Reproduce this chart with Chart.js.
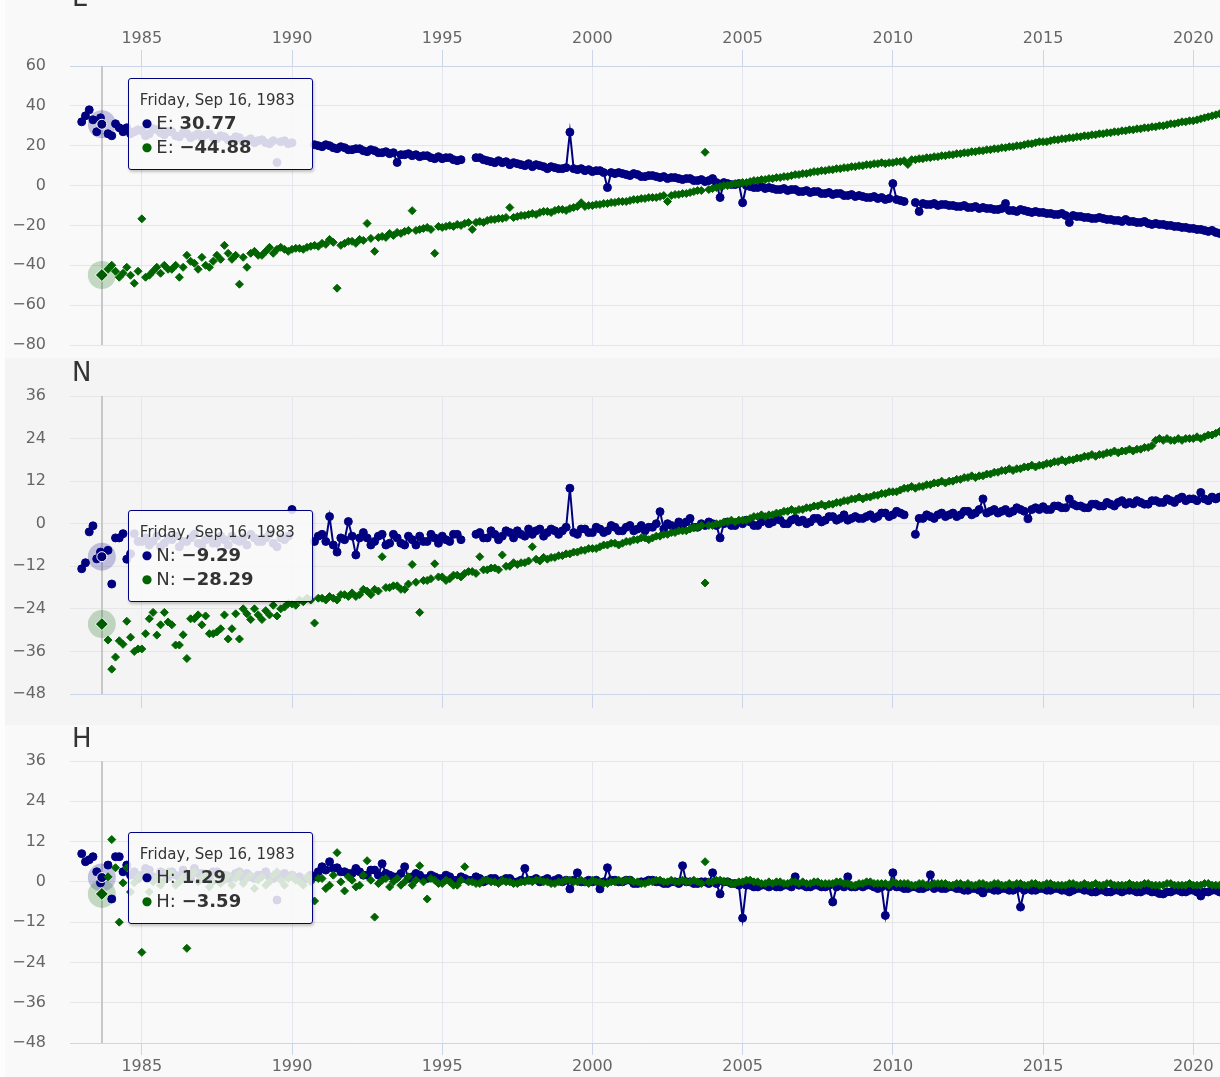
<!DOCTYPE html>
<html>
<head>
<meta charset="utf-8">
<script src="https://cdn.jsdelivr.net/npm/chart.js@4.4.1/dist/chart.umd.min.js"></script>
<style>
  html, body { margin: 0; padding: 0; }
  body { width: 1220px; height: 1077px; overflow: hidden; position: relative; background: #fdfdfd;
         font-family: 'DejaVu Sans', Verdana, sans-serif; }
  .panel { position: absolute; left: 5px; width: 1215px; }
  .panel canvas { position: absolute; left: 0; top: 0; }
  .title { position: absolute; left: 67px; font-size: 26px; line-height: 26px; color: #333; }
  .topline { position: absolute; left: 5px; top: 6px; width: 1215px; height: 1px; background: #e1e6ef; }
  .tip { position: absolute; width: 185px; height: 92px; box-sizing: border-box; padding: 11px 0 0 11px;
         background: rgba(249, 249, 249, 0.86); border: 1.5px solid #000080; border-radius: 3px;
         box-shadow: 1px 2px 3px rgba(0, 0, 0, 0.22); color: #333; white-space: nowrap; }
  .tip .head { font-size: 15px; line-height: 20px; margin-bottom: 1px; }
  .tip .row { font-size: 18px; line-height: 24px; }
  .tip .dot { font-size: 12px; margin: 0 4px 0 2px; vertical-align: 2px; }
  .tip b { font-weight: bold; }
</style>
</head>
<body>
<div class="topline"></div>
<div class="panel" style="top:0;height:358px;background:#f9f9f9">
  <canvas id="chart-e" width="1215" height="358"></canvas>
  <div class="title" style="top:-16px">E</div>
</div>
<div class="panel" style="top:358px;height:367px;background:#f4f4f4">
  <canvas id="chart-n" width="1215" height="367"></canvas>
  <div class="title" style="top:1px">N</div>
</div>
<div class="panel" style="top:725px;height:352px;background:#f9f9f9">
  <canvas id="chart-h" width="1215" height="352"></canvas>
  <div class="title" style="top:0px">H</div>
</div>
<div class="tip" id="tip-e"></div>
<div class="tip" id="tip-n"></div>
<div class="tip" id="tip-h"></div>

<script>
// decimal years of the samples, 8 a year (the hovered one is Sep 16, 1983)
const dates = [
  1983, 1983.125, 1983.25, 1983.375, 1983.5, 1983.625, 1983.67, 1983.875,
  1984, 1984.125, 1984.25, 1984.375, 1984.5, 1984.625, 1984.75, 1984.875,
  1985, 1985.125, 1985.25, 1985.375, 1985.5, 1985.625, 1985.75, 1985.875,
  1986, 1986.125, 1986.25, 1986.375, 1986.5, 1986.625, 1986.75, 1986.875,
  1987, 1987.125, 1987.25, 1987.375, 1987.5, 1987.625, 1987.75, 1987.875,
  1988, 1988.125, 1988.25, 1988.375, 1988.5, 1988.625, 1988.75, 1988.875,
  1989, 1989.125, 1989.25, 1989.375, 1989.5, 1989.625, 1989.75, 1989.875,
  1990, 1990.125, 1990.25, 1990.375, 1990.5, 1990.625, 1990.75, 1990.875,
  1991, 1991.125, 1991.25, 1991.375, 1991.5, 1991.625, 1991.75, 1991.875,
  1992, 1992.125, 1992.25, 1992.375, 1992.5, 1992.625, 1992.75, 1992.875,
  1993, 1993.125, 1993.25, 1993.375, 1993.5, 1993.625, 1993.75, 1993.875,
  1994, 1994.125, 1994.25, 1994.375, 1994.5, 1994.625, 1994.75, 1994.875,
  1995, 1995.125, 1995.25, 1995.375, 1995.5, 1995.625, 1995.75, 1995.875,
  1996, 1996.125, 1996.25, 1996.375, 1996.5, 1996.625, 1996.75, 1996.875,
  1997, 1997.125, 1997.25, 1997.375, 1997.5, 1997.625, 1997.75, 1997.875,
  1998, 1998.125, 1998.25, 1998.375, 1998.5, 1998.625, 1998.75, 1998.875,
  1999, 1999.125, 1999.25, 1999.375, 1999.5, 1999.625, 1999.75, 1999.875,
  2000, 2000.125, 2000.25, 2000.375, 2000.5, 2000.625, 2000.75, 2000.875,
  2001, 2001.125, 2001.25, 2001.375, 2001.5, 2001.625, 2001.75, 2001.875,
  2002, 2002.125, 2002.25, 2002.375, 2002.5, 2002.625, 2002.75, 2002.875,
  2003, 2003.125, 2003.25, 2003.375, 2003.5, 2003.625, 2003.75, 2003.875,
  2004, 2004.125, 2004.25, 2004.375, 2004.5, 2004.625, 2004.75, 2004.875,
  2005, 2005.125, 2005.25, 2005.375, 2005.5, 2005.625, 2005.75, 2005.875,
  2006, 2006.125, 2006.25, 2006.375, 2006.5, 2006.625, 2006.75, 2006.875,
  2007, 2007.125, 2007.25, 2007.375, 2007.5, 2007.625, 2007.75, 2007.875,
  2008, 2008.125, 2008.25, 2008.375, 2008.5, 2008.625, 2008.75, 2008.875,
  2009, 2009.125, 2009.25, 2009.375, 2009.5, 2009.625, 2009.75, 2009.875,
  2010, 2010.125, 2010.25, 2010.375, 2010.5, 2010.625, 2010.75, 2010.875,
  2011, 2011.125, 2011.25, 2011.375, 2011.5, 2011.625, 2011.75, 2011.875,
  2012, 2012.125, 2012.25, 2012.375, 2012.5, 2012.625, 2012.75, 2012.875,
  2013, 2013.125, 2013.25, 2013.375, 2013.5, 2013.625, 2013.75, 2013.875,
  2014, 2014.125, 2014.25, 2014.375, 2014.5, 2014.625, 2014.75, 2014.875,
  2015, 2015.125, 2015.25, 2015.375, 2015.5, 2015.625, 2015.75, 2015.875,
  2016, 2016.125, 2016.25, 2016.375, 2016.5, 2016.625, 2016.75, 2016.875,
  2017, 2017.125, 2017.25, 2017.375, 2017.5, 2017.625, 2017.75, 2017.875,
  2018, 2018.125, 2018.25, 2018.375, 2018.5, 2018.625, 2018.75, 2018.875,
  2019, 2019.125, 2019.25, 2019.375, 2019.5, 2019.625, 2019.75, 2019.875,
  2020, 2020.125, 2020.25, 2020.375, 2020.5, 2020.625, 2020.75, 2020.875
];

// E component (one row per year)
const eBlue = [
  32, 35, 38, 33, 27, 34, 30.77, 26,
  25, 31, 29, 27, 29, 26, 27, 28,
  27.5, 25, 26, 28.5, 28, 26.5, 25.5, 27,
  27, 25, 24.5, 26.5, 26, 24, 25, 26,
  24, 25.5, 26, 24, 23.5, 25, 24.5, 23,
  23, 24.5, 24, 22, 22.5, 23.5, 21.5, 22.5,
  23, 21.5, 21, 22.5, 11.6, 22, 22.5, 21,
  21.5, null, null, null, null, null, 20.5, 20,
  19.5, 20.5, 20, 19, 18.5, 19.5, 19, 18,
  18, 18.5, 18.5, 17.5, 17, 18, 17.5, 16.5,
  16.5, 17, 16, 16.5, 11.6, 15.5, 15.5, 16,
  15, 15.5, 14.5, 15, 15, 14, 13.5, 14.5,
  13.5, 14, 14, 13, 12.5, 13, null, null,
  null, 14, 14, 13, 12.5, 12, 11.5, 12.5,
  11.5, 12, 10.5, 11.5, 11, 10.5, 10, 11,
  9.5, 10.5, 10, 9.5, 8.5, 9.5, 9, 8.5,
  8.5, 9, 26.8, 8.5, 8, 8.5, 7.5, 8,
  7, 7.5, 7.5, 6.5, -1, 6.5, 6, 6.5,
  6, 5.5, 5, 6, 5.5, 4.5, 4.5, 5,
  5, 4.5, 4, 4.5, 3.5, 4, 4, 3.5,
  3, 3.5, 3.5, 2.5, 2.5, 3, 2, 2.5,
  3.5, 1.5, -6, 1.5, 1, 0.5, 0.5, 1,
  -8.6, 0, -0.5, -1, -1, -0.5, -1.5, -1,
  -1.5, -2, -2, -1.5, -2.5, -2, -2, -3,
  -3, -2.5, -3.5, -3, -3, -4, -4, -3.5,
  -4.5, -4, -4, -5, -5, -4.5, -5.5, -5,
  -5.5, -6, -6, -5.5, -6.5, -6, -7, -6.5,
  1, -7, -7.5, -8, null, null, -8.5, -13,
  -9, -9.5, -9.5, -9, -10, -9.5, -9.5, -10,
  -10, -10.5, -10.5, -10, -11, -11, -10.5, -11.5,
  -11, -11.5, -11.5, -12, -12, -11.5, -9, -12.5,
  -12.5, -13, -12, -12.5, -13, -13.5, -13, -13.5,
  -13.5, -14, -14, -14.5, -14.5, -14, -15, -18.5,
  -15, -15.5, -15.5, -16, -16, -16.5, -16.5, -16,
  -16.5, -17, -17, -17.5, -17.5, -18, -17, -18,
  -18, -18.5, -18.5, -18, -19, -19.5, -19, -19.5,
  -19.5, -20, -20, -20.5, -20.5, -21, -21, -21.5,
  -21.5, -22, -22, -22.5, -23, -22.5, -23.5, -24
];
const eGreen = [
  null, null, null, null, null, null, -44.88, -42,
  -40, -43, -46, -44, -41, -45, -49, -43,
  -16.7, -46, -45, -43, -41, -44, -40, -42,
  -42, -40, -46, -41, -35, -38, -39, -42,
  -36, -40, -41, -38, -35, -37, -30, -34,
  -37, -35, -49.5, -36, -41, -34, -33, -35,
  -35, -33, -31, -34, -32, -31, -32, -33,
  -32, -31.5, -31.5, -32, -31, -30.5, -30, -30.5,
  -29, -29.5, -27, -28.5, -51.5, -30, -29, -28,
  -28, -29, -27, -27.5, -19, -26.5, -33, -26,
  -25.5, -26, -24, -25, -23.5, -24, -23, -22.5,
  -12.6, -22.5, -22, -21.5, -21, -22, -34, -20.5,
  -21, -20.5, -20, -20.5, -19.5, -20, -19, -18.5,
  -22, -18.5, -18, -18.5, -17.5, -17, -17, -16.5,
  -16.5, -16, -11, -16, -15.5, -15, -15, -14.5,
  -14, -14.5, -13.5, -13, -13, -13.5, -12.5, -12,
  -12, -12.5, -11.5, -11, -10.5, -8.6, -10.5, -10,
  -10, -9.5, -9.5, -9, -9, -8.5, -8.5, -8,
  -8, -8, -7.5, -7, -7, -6.5, -6.5, -6,
  -6, -6, -5.5, -5, -8, -5, -4.5, -4.5,
  -4, -4, -3.5, -3, -2.5, -2.5, 16.7, -2,
  -1.5, -1, -0.5, 0, 0, 0.5, 1, 1,
  1.5, 1.5, 2, 2.5, 2.5, 3, 3, 3.5,
  3.5, 4, 4, 4.5, 4.5, 5, 5.5, 5.5,
  6, 6, 6.5, 7, 7, 7.5, 7.5, 8,
  8, 8.5, 8.5, 9, 9, 9.5, 9.5, 10,
  10, 10.5, 10.5, 11, 11, 11.5, 11, 11.5,
  11.5, 12, 12, 12.5, 10.6, 13, 13, 13.5,
  13.5, 14, 14, 14.5, 14.5, 15, 15, 15.5,
  15.5, 16, 16, 16.5, 16.5, 17, 17, 17.5,
  17.5, 18, 18, 18.5, 18.5, 19, 19, 19.5,
  19.5, 20, 20, 20.5, 21, 21, 21.5, 22,
  22, 22, 22.5, 23, 23, 23.5, 23.5, 24,
  24, 24.5, 24.5, 25, 25, 25.5, 25.5, 26,
  26, 26.5, 26.5, 27, 27, 27.5, 27.5, 28,
  28, 28.5, 28.5, 29, 29, 29.5, 29.5, 30,
  30, 30.5, 31, 31, 31.5, 32, 32, 32.5,
  32.5, 33, 33.5, 34, 34.5, 35, 35.5, 36
];

// N component
const nBlue = [
  -12.7, -11, -2.3, -0.6, -9.9, -8, -9.29, -7.5,
  -17, -4, -4, -2.8, -10, -8.5, -2.8, -5,
  -5, -4, -6, -5, -3.5, -6.5, -5.5, -4,
  -4.5, -3.5, -6.5, -5, -5, -4, -3, -5.5,
  -6, -4.5, -4, -5.5, -5.5, -3.5, -4.5, -6,
  -3.5, -4.5, -5, -4, -6, -3, -4, -5,
  -5, -4, -3, -5.5, -6.5, -4, -4.5, -3.5,
  4, null, null, null, null, null, -5, -3.5,
  -3, -5, 2, -6, -8, -4, -4.5, 0.6,
  -3.5, -8.8, -4, -2.5, -4, -6, -5, -3.5,
  -3, -6, -5.5, -3, -4, -5.5, -6, -3.5,
  -4.5, -6, -3.5, -5, -5, -3, -4, -5.5,
  -3.5, -4.5, -5, -3, -3, -4.5, null, null,
  null, -3, -2.5, -4, -4, -2, -3, -4.5,
  -3.5, -2, -2.5, -4, -2, -3, -3.5, -1.5,
  -3, -2, -1.5, -3.5, -2.5, -1.5, -2, -3,
  -2, -1, 10, -2.5, -3, -1.5, -1.5, -2.5,
  -2.5, -1, -1.5, -2.5, -2, -0.5, -1, -2,
  -2, -1, -0.5, -2, -1.5, -0.5, -2, -1,
  -1, 0, 3.4, -1.5, 0, -0.5, -1, 0.5,
  -0.5, 0.5, 1.5, -1, -1, 0, -0.5, 0.5,
  0, -0.5, -4, 0, 0.5, -0.5, -0.5, 0.5,
  0, 1, 0.5, -0.5, -0.5, 0.5, 1, 0,
  0.5, 1.5, 1, 0, 0, 1, 1.5, 0.5,
  1, 0, 0.5, 1.5, 1.5, 0.5, 1, 2,
  2, 1, 1.5, 2.5, 1, 1.5, 2, 1.5,
  1.5, 2, 2.5, 1.5, 2, 3, 3, 2,
  2.5, 3.5, 3, 2.5, null, null, -3, 1.5,
  1.5, 2.5, 2, 1.5, 2.5, 3, 2, 2.5,
  3, 2, 2.5, 3.5, 3.5, 2.5, 3, 4,
  7, 3, 3.5, 4, 3, 3.5, 4, 3,
  3.5, 4.5, 4, 3.5, 1.4, 4, 4.5, 4,
  4.8, 4, 4, 5, 5, 4.5, 4.5, 7,
  5.5, 5, 5, 4.5, 4.5, 5.5, 5.5, 5,
  5, 6, 5.5, 5, 6, 6.5, 5.5, 6,
  5.6, 6.5, 6, 5.5, 5.5, 6.5, 6.5, 6,
  6, 7, 6.5, 6, 7, 7.5, 6.5, 7,
  7, 6.5, 8.8, 7, 6.5, 7.5, 7, 7.5
];
const nGreen = [
  null, null, null, null, null, null, -28.29, -32.8,
  -41, -37.6, -33, -34, -27.5, -32, -36, -35.3,
  -35.3, -31, -26.8, -25, -31.4, -28.5, -25, -27.7,
  -28.5, -34.2, -34.2, -31.3, -38, -26.8, -26.8, -25.7,
  -28.5, -26, -31, -31, -30.5, -29.6, -25.7, -32.5,
  -29.6, -25.4, -32.5, -24, -25.4, -27, -24, -25.7,
  -27, -24.5, -25.7, -23, -26, -24, -23.5, -22.5,
  -22.6, -23, -21.5, -22, -21, -21.5, -28, -21,
  -21, -21.5, -20.5, -21, -21.5, -20, -20, -20.5,
  -19.5, -20.5, -20, -18.5, -19, -20, -18.5, -19,
  -9.3, -18, -18, -17.5, -17.5, -18.5, -18.5, -17,
  -11.5, -16.5, -25, -16, -16, -15.5, -11.3, -15,
  -15, -16, -15.5, -14.5, -14.5, -15, -14, -13.5,
  -13.5, -14, -9.3, -13, -13, -12.5, -12.5, -13,
  -8.8, -12, -12, -11, -11.5, -11, -11, -10.5,
  -6.5, -10, -10.5, -9.5, -10, -9.5, -9.5, -9,
  -9, -8.5, -8.5, -8, -8, -7.5, -7.5, -7,
  -7, -7, -6.5, -6, -6, -5.5, -5.5, -6,
  -5.5, -5, -5, -4.5, -4.5, -4, -4, -4.5,
  -4, -3.5, -3.5, -3, -3, -2.5, -2.5, -2,
  -2, -2, -1.5, -1, -1, -0.5, -16.7, -0.5,
  -0.5, 0, 0, 0.5, 0.5, 1, 0.5, 1,
  1, 1, 1.5, 2, 2, 2.5, 2, 2.5,
  2.5, 3, 3, 3.5, 3.5, 4, 3.5, 4,
  4, 4.5, 4.5, 5, 5, 5.5, 5, 5.5,
  5.5, 6, 6, 6.5, 6.5, 7, 7, 7.5,
  7, 7.5, 7.5, 8, 8, 8.5, 8.5, 9,
  9, 9, 9.5, 10, 10, 10.5, 10, 10.5,
  10.5, 11, 11, 11.5, 11.5, 12, 11.5, 12,
  12, 12.5, 12.5, 13, 13, 13.5, 13, 13.5,
  13.5, 14, 14, 14.5, 14.5, 15, 15, 15.5,
  15, 15.5, 15.5, 16, 16, 16.5, 16, 16.5,
  16.5, 17, 17, 17.5, 17.5, 18, 17.5, 18,
  18, 18.5, 18.5, 19, 19, 19.5, 19, 19.5,
  19.5, 20, 20, 20.5, 20, 20.5, 20.5, 21,
  20.5, 21, 21, 21.5, 21.5, 22, 23.5, 24,
  23.5, 24, 23.5, 23.5, 24, 23.5, 24, 24,
  24, 24.5, 24, 24.5, 25, 25, 25.5, 26
];

// H component
const hBlue = [
  8.4, 6, 6.6, 7.5, 3, -0.3, 1.29, 5,
  -5.1, 7.5, 7.5, 3, 5, 2, 3, 1,
  2, 4, 3.5, 1.5, 1, 3, 2.5, 1.5,
  3, 2, 1.5, 3.5, 2, 1, 4, 2.5,
  2.5, 1.5, 1, 3, 3, 2, 2, 1,
  1.5, 2.5, 3, 1, 2.5, 1.5, 1, 2,
  2, 3, 1.5, 1, -5.4, 2, 2.5, 1.5,
  2, 1, 1.5, 0.5, 1, 2, 1.5, 3,
  4.5, 3.5, 6, 4, 4.2, 3, 3, 2.5,
  2.5, 4, 3, 2, 2, 3.5, 3.5, 2,
  5.4, 2.5, 2, 1.5, 1.5, 2.5, 4.5, 1,
  1.5, 2.5, 2, 1, 1, 2, 1.5, 1,
  1, 2, 1.5, 0.5, 0.5, 1.5, 1, 0.5,
  0.5, 1.5, 1, 0, 0.5, 1, 1, 0,
  0.5, 1, 1, 0, 0, 0.5, 4, 0.5,
  0.5, 1, 0, 0.5, 1, 0, 0.5, 1,
  0, 0.5, -2.1, 0.5, 2.7, 0, 0, 0.5,
  0, 0.5, -2.1, 0, 4.2, 0.5, 0.5, 0,
  0, 0.5, 0.5, -0.5, -0.5, 0, 0, 0.5,
  0.5, 0, 0, -0.5, -0.5, 0, 0, -0.5,
  4.8, 0, 0, -0.5, -0.5, 0, 0, -0.5,
  2.7, -0.5, -3.6, 0, 0, -0.5, -0.5, -1,
  -10.8, -1, -1, -1.5, -1.5, -1, -1, -1.5,
  -1, -1.5, -1.5, -1, -1, -1.5, 1.5, -1,
  -1, -1.5, -1.5, -1, -1, -1.5, -1.5, -1,
  -6, -1.5, -1, -1.5, 1.5, -1.5, -1.5, -1,
  -1.5, -1, -1, -1.5, -2, -1.5, -10, -1.5,
  2.7, -1.5, -1.5, -2, -2, -1.5, -1.5, -2,
  -2, -1.5, 2.1, -2, -1.5, -2, -2, -1.5,
  -1.5, -2, -2, -2.5, -2.5, -2, -2, -2.5,
  -3.3, -2, -2, -2.5, -2.5, -2, -2, -2.5,
  -2.5, -2, -7.5, -2.5, -2, -2.5, -2.5, -2,
  -2, -2.5, -2.5, -2, -2, -2.5, -2.5, -3,
  -2.5, -2, -2, -2.5, -2.5, -3, -3, -2.5,
  -2.5, -3, -3, -2.5, -2.5, -3, -2.5, -2.5,
  -2.5, -3, -3, -2.5, -2.5, -3, -3, -3.5,
  -3.6, -3, -3, -2.5, -2.5, -3, -3, -2.5,
  -2.5, -3, -4.2, -3, -3, -2.5, -2.5, -3
];
const hGreen = [
  null, null, null, null, null, null, -3.59, 1.5,
  12.6, 4.2, -12, -0.3, 4.2, -3, -0.3, 1.5,
  -21, 2, -3, 0, 1.5, -1, 0.5, 3,
  2.5, -1, 0, 1.5, -19.8, 2, 3, 0,
  1, 2.5, -1.5, 0, 2, -0.5, 0.5, 2,
  -1, 1, 2.5, -0.5, 1, 2, -2, 0.5,
  1.5, -1, 0, 2, 3, 0.5, -1, 1,
  2, 0.5, 0, -1, 1.5, 0, -5.7, 1,
  1, -2, -1, 2, 8.7, 0, -2.7, 1.5,
  0.5, -1.5, -1, 2, 6.3, 0.5, -10.5, -0.5,
  0.5, 1, -1.5, 0, 1, -1, 0, 1.5,
  -1, 0.5, 4.8, 0, -5.1, 1, 0.5, -0.5,
  -0.5, 0.5, 0, -1, -1, 0.5, 4.5, 0,
  0, -0.5, -0.5, 0.5, 0.5, 0, 0, -0.5,
  0.5, 0, 0, -0.5, -0.5, 0, 0, 0.5,
  0, 0.5, 0.5, 0, 0, -0.5, -0.5, 0,
  0, 0.5, 0.5, 0, 0, 0.5, 0, -0.5,
  0.5, 0, 0, -0.5, -0.5, 0, 0, 0.5,
  0, 0.5, 0.5, 0, 0, -0.5, -0.5, 0,
  0, 0.5, 0.5, 0, 0, 0.5, 0, 0,
  0.5, 0, 0, 0.5, 0, -0.5, 6, 0,
  0, 0.5, 0.5, 0, 0, -0.5, -0.5, 0,
  0, 0.5, 0.5, 0, 0, -0.5, -0.5, 0,
  -0.5, 0, 0, -0.5, -0.5, 0, 0, -0.5,
  0, -0.5, -0.5, 0, 0, -0.5, -0.5, -0.5,
  -0.5, 0, 0, -0.5, -0.5, -1, -1, -0.5,
  -0.5, 0, 0, -0.5, -0.5, -0.5, -0.5, -1,
  0, -0.5, -0.5, -0.5, -0.5, -1, -1, -0.5,
  -0.5, -1, -1, -0.5, -0.5, -0.5, -0.5, -1,
  -1, -0.5, -0.5, -1, -0.5, -1, -1, -0.5,
  -0.5, -1, -1, -0.5, -0.5, -1, -1, -0.5,
  -1, -0.5, -0.5, -1, -1, -0.5, -0.5, -1,
  -1, -0.5, -0.5, -1, -1, -1, -1, -0.5,
  -0.5, -1, -1, -0.5, -1, -1, -0.5, -1,
  -1, -0.5, -0.5, -1, -1, -1, -1, -0.5,
  -1, -1, -1, -0.5, -0.5, -1, -1, -1,
  -1, -0.5, -0.5, -1, -1, -1, -1, -0.5,
  -1, -1, -1, -0.5, -0.5, -1, -1, -1
];

const HOVER_INDEX = 6;
const hoverLabel = 'Friday, Sep 16, 1983';
const CONNECT_FROM = 1990.6;   // early campaign points are not joined by a line

const NAVY = '#000080';
const GREEN = '#006400';
const HALO = ['rgba(0,0,128,0.22)', 'rgba(0,100,0,0.22)'];

const fmt = v => v.toFixed(2).replace('-', '\u2212');
const minus = v => String(v).replace('-', '\u2212');

// crosshair + halo behind the hovered points
const hoverMarks = {
  id: 'hoverMarks',
  beforeDatasetsDraw(chart) {
    const act = chart.getActiveElements();
    if (!act.length) return;
    const { ctx, chartArea } = chart;
    ctx.save();
    ctx.strokeStyle = '#c8c8c8';
    ctx.lineWidth = 2;
    const x = Math.round(act[0].element.x);
    ctx.beginPath();
    ctx.moveTo(x, chartArea.top);
    ctx.lineTo(x, chartArea.bottom);
    ctx.stroke();
    act.forEach(a => {
      ctx.fillStyle = HALO[a.datasetIndex];
      ctx.beginPath();
      ctx.arc(a.element.x, a.element.y, 14, 0, Math.PI * 2);
      ctx.fill();
    });
    ctx.restore();
  }
};

function htmlTooltip(panel) {
  return ({ chart, tooltip }) => {
    const el = document.getElementById('tip-' + panel.id);
    if (tooltip.opacity === 0) { el.style.display = 'none'; return; }
    const rows = tooltip.dataPoints.map(p =>
      `<div class="row"><span class="dot" style="color:${p.dataset.borderColor}">●</span>${panel.name}: <b>${fmt(p.parsed.y)}</b></div>`
    ).join('');
    el.innerHTML = `<div class="head">${hoverLabel}</div>` + rows;
    el.style.display = 'block';
    el.style.left = (chart.canvas.parentNode.offsetLeft + tooltip.caretX + 26) + 'px';
    el.style.top = panel.tipTop + 'px';
  };
}

const panels = [
  { id: 'e', name: 'E', blue: eBlue, green: eGreen, min: -80, max: 60, step: 20,
    xPos: 'top', xLabels: true, xHeight: 66, tickLen: 16, padTop: 0, padBottom: 13, tipTop: 78 },
  { id: 'n', name: 'N', blue: nBlue, green: nGreen, min: -48, max: 36, step: 12,
    xPos: 'bottom', xLabels: false, xHeight: 31, tickLen: 14, padTop: 38, padBottom: 0, tipTop: 510 },
  { id: 'h', name: 'H', blue: hBlue, green: hGreen, min: -48, max: 36, step: 12,
    xPos: 'bottom', xLabels: true, xHeight: 34, tickLen: 12, padTop: 36, padBottom: 0, tipTop: 832 },
];

const tickFont = { family: "'DejaVu Sans', Verdana, sans-serif", size: 16 };

panels.forEach(p => {
  const chart = new Chart(document.getElementById('chart-' + p.id), {
    type: 'line',
    data: {
      datasets: [
        {
          label: p.name, order: 1,
          data: dates.map((x, i) => ({ x, y: p.blue[i] })),
          borderColor: NAVY, backgroundColor: NAVY, borderWidth: 2,
          pointStyle: 'circle', pointRadius: 4, pointBorderWidth: 1,
          pointBackgroundColor: NAVY, pointBorderColor: NAVY,
          pointHoverRadius: 5, pointHoverBorderWidth: 1, pointHoverBorderColor: '#ffffff',
          spanGaps: false,
          segment: { borderColor: ctx => (ctx.p0.parsed.x < CONNECT_FROM ? 'rgba(0,0,0,0)' : undefined) },
        },
        {
          label: p.name, order: 0, showLine: false,
          data: dates.map((x, i) => ({ x, y: p.green[i] })),
          borderColor: GREEN, backgroundColor: GREEN,
          pointStyle: 'rectRot', pointRadius: 4, pointBorderWidth: 1,
          pointBackgroundColor: GREEN, pointBorderColor: GREEN,
          pointHoverRadius: 6.5, pointHoverBorderWidth: 1, pointHoverBorderColor: '#ffffff',
        },
      ],
    },
    options: {
      responsive: false, maintainAspectRatio: false, animation: false, events: [],
      layout: { autoPadding: false, padding: { top: p.padTop, bottom: p.padBottom, left: 0, right: 0 } },
      interaction: { mode: 'index', intersect: false },
      plugins: {
        legend: { display: false },
        title: { display: false },
        tooltip: { enabled: false, external: htmlTooltip(p) },
      },
      scales: {
        x: {
          type: 'linear', position: p.xPos, min: 1982.61, max: 2020.89,
          afterFit: s => { s.height = p.xHeight; s.paddingLeft = 0; s.paddingRight = 0; },
          ticks: { display: p.xLabels, stepSize: 5, includeBounds: false, autoSkip: false, maxRotation: 0,
                   padding: 2, color: '#666', font: tickFont, callback: v => String(v) },
          grid: { color: '#e3e6ee', lineWidth: 1, tickColor: '#ccd6eb', tickLength: p.tickLen },
          border: { color: '#ccd6eb', width: 1 },
        },
        y: {
          min: p.min, max: p.max,
          // fixed axis width; label padding must not shrink the plot vertically
          afterFit: s => { s.width = 65; s.paddingTop = 0; s.paddingBottom = 0; },
          ticks: { stepSize: p.step, padding: 24, color: '#666', font: tickFont, callback: v => minus(v) },
          grid: { color: '#e6e6e6', lineWidth: 1, drawTicks: false },
          border: { display: false },
        },
      },
    },
    plugins: [hoverMarks],
  });

  const active = [{ datasetIndex: 0, index: HOVER_INDEX }, { datasetIndex: 1, index: HOVER_INDEX }];
  chart.setActiveElements(active);
  chart.tooltip.setActiveElements(active, { x: 0, y: 0 });
  chart.update();
});
</script>
</body>
</html>
